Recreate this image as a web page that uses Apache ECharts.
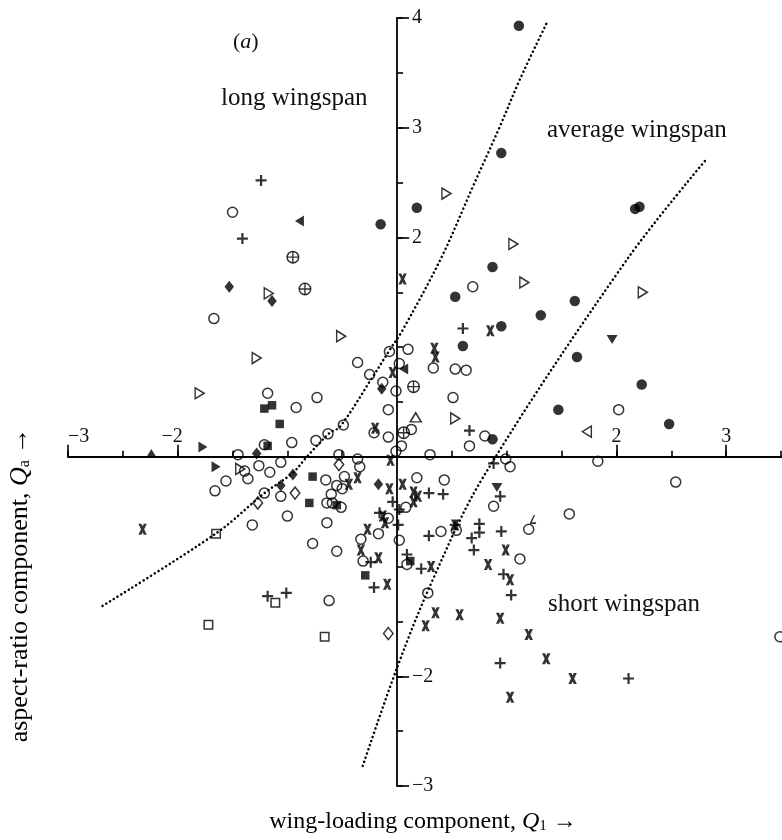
<!DOCTYPE html>
<html><head><meta charset="utf-8">
<script src="https://cdn.jsdelivr.net/npm/echarts@6/dist/echarts.min.js"></script>
<style>html,body{margin:0;padding:0;background:#fff}#c{width:782px;height:840px}</style>
</head><body><div id="c"></div>
<script>
// ---- data (Q1, Qa) ----
const openCircles = [[-1.50,2.23],[-1.67,1.26],[0.69,1.55],[2.02,0.43],[0.80,0.19],[0.99,-0.02],[1.03,-0.09],[1.83,-0.04],[2.54,-0.23],
[-1.18,0.58],[-0.73,0.54],[-0.92,0.45],[-0.74,0.15],[-0.96,0.13],[-1.21,0.11],[-1.45,0.02],[-1.06,-0.05],[-1.26,-0.08],[-1.39,-0.13],
[-1.36,-0.20],[-1.56,-0.22],[-1.16,-0.14],[-0.65,-0.21],[-1.66,-0.31],[-1.21,-0.33],[-1.06,-0.36],[-0.64,-0.42],[-1.00,-0.54],[-1.32,-0.62],
[-0.64,-0.60],[-0.07,0.96],[0.10,0.98],[-0.36,0.86],[0.02,0.85],[0.33,0.81],[0.53,0.80],[0.63,0.79],[-0.25,0.75],[-0.13,0.68],[-0.01,0.60],
[-0.08,0.43],[0.51,0.54],[-0.21,0.22],[-0.49,0.29],[-0.63,0.21],[-0.08,0.18],[0.13,0.25],[0.04,0.10],[0.66,0.10],[0.30,0.02],[-0.01,0.05],
[-0.53,0.02],[-0.36,-0.02],[-0.34,-0.09],[-0.48,-0.18],[-0.55,-0.26],[-0.50,-0.29],[-0.60,-0.34],[-0.59,-0.42],[-0.51,-0.46],[0.18,-0.19],
[0.43,-0.21],[0.08,-0.46],[-0.08,-0.56],[-0.77,-0.79],[-0.55,-0.86],[-0.33,-0.75],[-0.17,-0.70],[0.02,-0.76],[0.40,-0.68],[0.54,-0.67],
[-0.31,-0.95],[0.09,-0.98],[0.28,-1.24],[-0.62,-1.31],[0.88,-0.45],[1.57,-0.52],[1.20,-0.66],[1.12,-0.93],[3.49,-1.64]];
const filledCircles = [[1.11,3.93],[0.95,2.77],[0.18,2.27],[-0.15,2.12],[2.17,2.26],[2.21,2.28],[0.87,1.73],[1.62,1.42],[1.31,1.29],[0.95,1.19],
[1.64,0.91],[2.23,0.66],[1.47,0.43],[2.48,0.30],[0.87,0.16],[0.60,1.01],[0.53,1.46]];
const plusMarks = [[-1.24,2.52],[-1.41,1.99],[0.60,1.17],[0.66,0.24],[0.88,-0.06],[0.29,-0.33],[0.42,-0.34],[-0.04,-0.41],[0.02,-0.48],[-0.16,-0.51],
[0.01,-0.62],[0.53,-0.62],[0.75,-0.61],[0.75,-0.69],[0.68,-0.74],[0.70,-0.85],[0.29,-0.72],[-0.24,-0.96],[-0.21,-1.19],[0.09,-0.89],[0.22,-1.02],
[0.94,-0.36],[0.95,-0.68],[0.97,-1.07],[1.04,-1.26],[0.94,-1.88],[2.11,-2.02],[-1.18,-1.27],[-1.01,-1.24]];
const crossMarks = [[-2.32,-0.66],[0.85,1.15],[0.34,0.99],[0.35,0.91],[-0.04,0.77],[-0.20,0.26],[-0.06,-0.03],[-0.44,-0.25],[-0.36,-0.19],
[-0.07,-0.29],[0.05,-0.25],[0.15,-0.32],[0.19,-0.36],[0.15,-0.41],[-0.13,-0.54],[-0.11,-0.60],[0.53,-0.62],[-0.27,-0.66],[-0.33,-0.85],
[-0.17,-0.92],[-0.09,-1.16],[0.31,-1.00],[0.83,-0.98],[0.35,-1.42],[0.57,-1.44],[0.26,-1.54],[0.94,-1.47],[0.99,-0.85],[1.03,-1.12],
[1.20,-1.62],[1.36,-1.84],[1.60,-2.02],[1.03,-2.19],[0.05,1.62]];
const openTriRight = [[-1.17,1.49],[-1.28,0.90],[-1.80,0.58],[-1.43,-0.11],[0.45,2.40],[1.06,1.94],[-0.51,1.10],[0.53,0.35],[1.16,1.59],[2.24,1.50]];
const filledTriRight = [[-1.77,0.09],[-1.65,-0.09]];
const filledTriLeft = [[-0.89,2.15],[0.06,0.80]];
const openTriLeft = [[1.73,0.23]];
const filledTriUp = [[-2.24,0.03]];
const openTriUp = [[0.17,0.36]];
const filledTriDown = [[1.96,1.07],[0.91,-0.28]];
const filledDiamonds = [[-1.53,1.55],[-1.14,1.42],[-1.28,0.03],[-0.95,-0.16],[-1.06,-0.26],[-0.14,0.62],[-0.17,-0.25]];
const openDiamonds = [[-0.93,-0.33],[-1.27,-0.42],[-0.53,-0.07],[-0.08,-1.61]];
const filledSquares = [[-1.21,0.44],[-1.14,0.47],[-1.07,0.30],[-1.18,0.10],[-0.77,-0.18],[-0.80,-0.42],[-0.55,-0.44],[-0.29,-1.08],[0.12,-0.95]];
const openSquares = [[-1.65,-0.70],[-1.11,-1.33],[-1.72,-1.53],[-0.66,-1.64]];
const circlePlus = [[-0.95,1.82],[-0.84,1.53],[0.15,0.64],[0.06,0.22]];
const hookMarks = [[1.24,-0.57]];
// dotted boundaries
const boundaryLong = [[-2.685,-1.358],[-1.644,-0.693],[-1.206,-0.328],[-0.951,-0.146],[-0.823,0],[-0.614,0.219],[-0.522,0.273],
[-0.222,0.729],[-0.067,0.975],[0.052,1.158],[0.407,1.823],[0.690,2.461],[0.936,3.008],[1.118,3.437],[1.365,3.956]];
const boundaryShort = [[-0.313,-2.817],[0.006,-1.905],[0.325,-1.121],[0.781,-0.191],[2.094,1.796],[2.823,2.717]];
// ticks
const xMinorTicks = [-3,-2.5,-2,-1.5,-1,-0.5,0.5,1,1.5,2,2.5,3,3.5];
const xTickLabels = [-3,-2,2,3];
const yMinorTicks = [-3,-2.5,-2,-1.5,-1,-0.5,0.5,1,1.5,2,2.5,3,3.5,4];
const yTickLabels = [-3,-2,2,3,4];

const SERIF = '"Liberation Serif", "DejaVu Serif", serif';
const PLUS = 'path://M4,0H6V4H10V6H6V10H4V6H0V4H4Z';
const THINPLUS = 'path://M4.4,0H5.6V4.4H10V5.6H5.6V10H4.4V5.6H0V4.4H4.4Z';
const CROSS = 'path://M0,0H2.9L4,2.3L5.1,0H8L5.5,5L8,10H5.1L4,7.7L2.9,10H0L2.5,5Z';
const HOOK = 'path://M0,0H8V1.8L3.2,10H1.2L5.8,1.8H0Z';

const openStyle = {color:'rgba(255,255,255,0)', borderColor:'#000', borderWidth:1.5};
const fillStyle = {color:'#000', borderWidth:0};
function sc(data, symbol, size, style, rotate){
  return {type:'scatter', data:data, symbol:symbol, symbolSize:size, symbolRotate:rotate||0,
    itemStyle:style, silent:true, z:3};
}
function dotted(data){
  return {type:'line', data:data, showSymbol:false, smooth:0.35, silent:true, z:2,
    lineStyle:{color:'#000', width:2.5, type:[0.1,4.3], cap:'round'}};
}
const series = [
  dotted(boundaryLong), dotted(boundaryShort),
  sc(openCircles,'circle',10,openStyle),
  sc(filledCircles,'circle',10.5,fillStyle),
  sc(plusMarks,PLUS,11,fillStyle),
  sc(crossMarks,CROSS,[8.5,11],fillStyle),
  sc(openTriRight,'triangle',[11,9],openStyle,-90),
  sc(filledTriRight,'triangle',[11,9],fillStyle,-90),
  sc(filledTriLeft,'triangle',[11,9],fillStyle,90),
  sc(openTriLeft,'triangle',[11,9],openStyle,90),
  sc(filledTriUp,'triangle',[11,9],fillStyle),
  sc(openTriUp,'triangle',[11,9],openStyle),
  sc(filledTriDown,'triangle',[11,9],fillStyle,180),
  sc(filledDiamonds,'diamond',[9.5,12],fillStyle),
  sc(openDiamonds,'diamond',[9.5,12],openStyle),
  sc(filledSquares,'rect',8.5,fillStyle),
  sc(openSquares,'rect',8.5,openStyle),
  sc(circlePlus,'circle',11.5,openStyle),
  sc(circlePlus,THINPLUS,11.5,fillStyle),
  sc(hookMarks,HOOK,[6,9],fillStyle,180)
];
// grid geometry
const G = {left:68, top:18, width:714, height:768};
const X_MIN = -3, X_MAX = 3.509, Y_MIN = -3, Y_MAX = 4;
const yZeroOffset = -(G.height * (0 - Y_MIN) / (Y_MAX - Y_MIN));   // move 2nd x-axis from bottom up to y=0
const xZeroOffset = -(G.width * (0 - X_MIN) / (X_MAX - X_MIN));    // move 2nd y-axis from left to x=0

const digitRich = {
  m:{fontSize:20, fontFamily:SERIF, color:'#111'},
  d:{fontSize:20, fontFamily:SERIF, color:'#111'},
  h:{fontSize:20, fontFamily:SERIF, color:'rgba(0,0,0,0)'}
};
const axisLineStyle = {color:'#000', width:1.8};
const tickStyle = {color:'#000', width:1.6};
const chart = echarts.init(document.getElementById('c'), null, {renderer:'canvas'});
chart.setOption({
  animation:false,
  backgroundColor:'#fff',
  grid:{left:G.left, top:G.top, width:G.width, height:G.height, containLabel:false},
  xAxis:[
    {type:'value', min:X_MIN, max:X_MAX, position:'bottom', axisLine:{onZero:true, lineStyle:axisLineStyle},
     axisTick:{show:true, inside:true, length:6, customValues:xMinorTicks, lineStyle:tickStyle},
     axisLabel:{show:false}, splitLine:{show:false}},
    {type:'value', min:X_MIN, max:X_MAX, position:'bottom', offset:yZeroOffset, axisLine:{show:false, onZero:false},
     axisTick:{show:true, inside:true, length:12, customValues:xTickLabels, lineStyle:tickStyle},
     axisLabel:{show:true, inside:true, margin:10, customValues:xTickLabels, rich:digitRich, alignMinLabel:'left',
       formatter:function(v){ return v<0 ? '{m|−}{d|'+Math.abs(v)+'}{h|−}' : '{d|'+v+'}'; }},
     splitLine:{show:false}}
  ],
  yAxis:[
    {type:'value', min:Y_MIN, max:Y_MAX, position:'left', axisLine:{onZero:true, lineStyle:axisLineStyle},
     axisTick:{show:true, inside:true, length:6, customValues:yMinorTicks, lineStyle:tickStyle},
     axisLabel:{show:false}, splitLine:{show:false}},
    {type:'value', min:Y_MIN, max:Y_MAX, position:'left', offset:xZeroOffset, axisLine:{show:false, onZero:false},
     axisTick:{show:true, inside:true, length:12, customValues:yTickLabels, lineStyle:tickStyle},
     axisLabel:{show:true, inside:true, margin:15, customValues:yTickLabels, fontSize:20, fontFamily:SERIF, color:'#111',
       formatter:function(v){ return v<0 ? '−'+Math.abs(v) : String(v); }},
     splitLine:{show:false}}
  ],
  series:series,
  graphic:[
    {type:'text', x:233, y:42, style:{text:'({i|a})', font:'22px '+SERIF, fill:'#111', verticalAlign:'middle',
      rich:{i:{fontStyle:'italic', fontSize:22, fontFamily:SERIF, color:'#111'}}}},
    {type:'text', x:221, y:98, style:{text:'long wingspan', font:'25px '+SERIF, fill:'#111', align:'left', verticalAlign:'middle'}},
    {type:'text', x:547, y:130, style:{text:'average wingspan', font:'25px '+SERIF, fill:'#111', align:'left', verticalAlign:'middle'}},
    {type:'text', x:548, y:604, style:{text:'short wingspan', font:'25px '+SERIF, fill:'#111', align:'left', verticalAlign:'middle'}},
    {type:'text', x:423, y:822, style:{text:'{t|wing-loading component, }{q|Q}{s|1}{t| →}', align:'center', verticalAlign:'middle',
      rich:{t:{fontSize:24, fontFamily:SERIF, color:'#111'}, q:{fontSize:24, fontStyle:'italic', fontFamily:SERIF, color:'#111'},
            s:{fontSize:15, fontFamily:SERIF, color:'#111', verticalAlign:'bottom'}}}},
    {type:'text', x:20, y:585, rotation:Math.PI/2, style:{text:'{t|aspect-ratio component, }{q|Q}{s|a}{t| →}', align:'center', verticalAlign:'middle',
      rich:{t:{fontSize:26, fontFamily:SERIF, color:'#111'}, q:{fontSize:26, fontStyle:'italic', fontFamily:SERIF, color:'#111'},
            s:{fontSize:16, fontFamily:SERIF, color:'#111', verticalAlign:'bottom'}}}}
  ]
});
</script></body></html>
